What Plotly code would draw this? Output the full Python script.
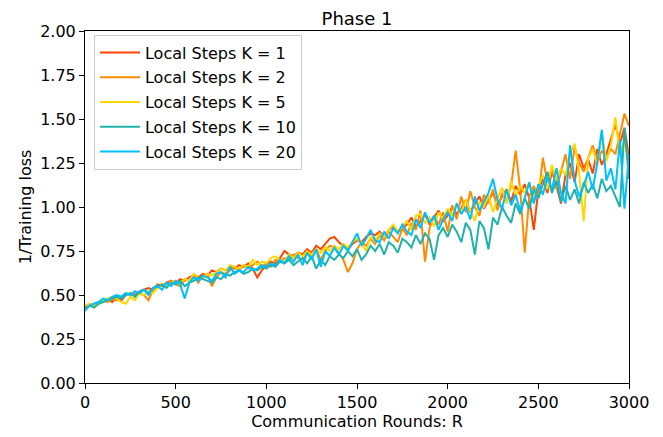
import plotly.graph_objects as go

rounds = list(range(0, 3001, 25))

k1 = [0.43,0.44,0.45,0.46,0.47,0.48,0.46,0.49,0.47,0.50,
      0.51,0.50,0.52,0.53,0.54,0.53,0.56,0.55,0.57,0.58,
      0.57,0.59,0.58,0.60,0.61,0.60,0.62,0.61,0.64,0.63,
      0.65,0.64,0.66,0.65,0.67,0.66,0.68,0.65,0.60,0.64,
      0.67,0.69,0.68,0.71,0.75,0.73,0.72,0.74,0.73,0.76,
      0.74,0.78,0.76,0.79,0.82,0.83,0.80,0.78,0.76,0.79,
      0.81,0.80,0.83,0.85,0.84,0.86,0.83,0.87,0.89,0.86,
      0.88,0.90,0.94,0.89,0.92,0.96,0.90,0.94,0.98,0.92,
      0.95,1.00,0.96,0.99,1.04,0.97,1.02,1.06,0.99,1.04,
      1.08,1.01,1.06,1.10,1.03,1.12,1.07,1.13,1.05,0.87,
      1.10,1.16,1.08,1.20,1.12,1.02,1.18,1.25,1.14,1.30,
      1.22,1.27,1.19,1.33,1.24,1.30,1.38,1.47,1.36,1.45,
      1.28]

k2 = [0.44,0.44,0.43,0.45,0.47,0.46,0.48,0.47,0.49,0.51,
      0.50,0.52,0.51,0.50,0.47,0.53,0.55,0.56,0.55,0.58,
      0.56,0.55,0.59,0.58,0.60,0.57,0.61,0.62,0.55,0.60,
      0.63,0.62,0.64,0.66,0.64,0.67,0.65,0.67,0.69,0.66,
      0.68,0.66,0.70,0.69,0.71,0.70,0.73,0.71,0.70,0.74,
      0.72,0.76,0.70,0.75,0.78,0.77,0.74,0.70,0.63,0.68,
      0.76,0.80,0.78,0.82,0.79,0.84,0.81,0.86,0.83,0.80,
      0.88,0.84,0.91,0.87,0.98,0.69,0.88,0.95,0.90,0.97,
      0.86,1.01,0.93,1.06,0.97,1.09,1.00,0.95,1.07,1.02,
      1.10,0.98,1.08,1.04,1.12,1.32,1.10,0.74,1.06,1.12,
      1.05,1.28,1.14,1.22,1.10,1.20,1.30,1.16,1.34,1.25,
      1.20,1.28,1.35,1.26,1.32,1.28,1.33,1.30,1.42,1.53,
      1.46]

k5 = [0.44,0.45,0.44,0.46,0.47,0.48,0.49,0.48,0.46,0.45,
      0.49,0.47,0.51,0.50,0.52,0.51,0.54,0.56,0.55,0.57,
      0.58,0.57,0.59,0.58,0.62,0.60,0.59,0.62,0.61,0.63,
      0.65,0.64,0.67,0.66,0.65,0.67,0.66,0.70,0.67,0.69,
      0.68,0.71,0.72,0.70,0.69,0.73,0.71,0.74,0.72,0.75,
      0.73,0.76,0.74,0.77,0.75,0.78,0.76,0.79,0.77,0.80,
      0.82,0.79,0.75,0.83,0.81,0.85,0.83,0.87,0.90,0.86,
      0.89,0.92,0.87,0.95,0.96,0.91,0.94,0.89,0.97,0.93,
      0.99,0.95,1.02,0.97,1.04,0.98,0.92,1.03,1.00,1.07,
      0.97,1.05,1.11,1.02,1.15,1.06,1.12,1.08,1.14,1.06,
      1.12,1.18,1.10,1.24,1.15,1.22,1.18,1.30,1.36,1.20,
      0.92,1.28,1.33,1.24,1.42,1.26,1.35,1.51,1.30,1.38,
      1.24]

k10 = [0.42,0.44,0.43,0.45,0.46,0.47,0.48,0.49,0.48,0.50,
       0.51,0.49,0.52,0.53,0.51,0.54,0.55,0.56,0.54,0.57,
       0.56,0.58,0.55,0.57,0.58,0.60,0.59,0.58,0.57,0.60,
       0.59,0.62,0.61,0.63,0.64,0.62,0.63,0.65,0.64,0.66,
       0.65,0.67,0.66,0.69,0.68,0.70,0.67,0.69,0.71,0.68,
       0.72,0.65,0.70,0.67,0.72,0.70,0.73,0.71,0.75,0.72,
       0.76,0.70,0.73,0.78,0.75,0.79,0.73,0.80,0.78,0.74,
       0.82,0.80,0.77,0.84,0.79,0.85,0.82,0.70,0.84,0.88,
       0.83,0.90,0.86,0.80,0.91,0.87,0.73,0.92,0.88,0.76,
       0.94,0.90,1.00,0.95,0.91,1.02,0.96,1.05,0.99,1.10,
       1.05,1.13,1.20,1.08,1.15,1.03,1.12,1.04,1.10,1.02,
       1.14,1.08,1.13,1.05,1.16,1.09,1.12,1.06,1.00,1.45,
       1.16]

k20 = [0.41,0.44,0.45,0.46,0.48,0.47,0.49,0.50,0.49,0.51,
       0.50,0.52,0.51,0.53,0.50,0.54,0.55,0.53,0.57,0.55,
       0.58,0.56,0.48,0.57,0.60,0.58,0.61,0.60,0.58,0.62,
       0.63,0.60,0.66,0.62,0.64,0.63,0.66,0.64,0.65,0.67,
       0.66,0.68,0.67,0.70,0.68,0.72,0.69,0.73,0.67,0.74,
       0.70,0.76,0.66,0.75,0.72,0.77,0.73,0.78,0.75,0.80,
       0.85,0.78,0.82,0.87,0.81,0.80,0.86,0.82,0.88,0.85,
       0.90,0.86,0.84,0.93,0.88,0.97,0.91,0.95,0.87,0.93,
       0.97,0.92,1.02,0.96,1.00,0.93,1.06,0.98,1.03,1.08,
       1.16,1.04,0.99,1.10,1.01,1.07,0.98,1.05,1.14,1.02,
       1.13,1.07,1.17,1.10,1.22,1.08,1.02,1.35,1.15,1.06,
       1.12,1.20,1.10,1.25,1.44,1.15,1.22,1.10,1.38,0.99,
       1.30]

names = ["Local Steps K = 1", "Local Steps K = 2", "Local Steps K = 5",
         "Local Steps K = 10", "Local Steps K = 20"]
series = [k1, k2, k5, k10, k20]
colors = ["#FF4500", "#FF8C00", "#FFD700", "#20B2AA", "#00BFFF"]

fig = go.Figure()
for i, (name, ys, c) in enumerate(zip(names, series, colors)):
    fig.add_trace(go.Scatter(x=rounds[:len(ys)], y=ys, mode="lines", name=name,
                             legendgroup=f"g{i}",
                             line=dict(color=c, width=2)))

font = "DejaVu Sans, sans-serif"
axis_common = dict(showline=True, linecolor="black", linewidth=1, mirror=True,
                   ticks="outside", ticklen=5, tickcolor="black", showgrid=False,
                   zeroline=False, tickfont=dict(size=16, color="black"),
                   automargin=False)

# page body has an 8px margin; the figure is sized so it fits the window
fig.update_layout(
    width=655, height=429,
    margin=dict(l=77, r=34, t=23, b=54),
    paper_bgcolor="white", plot_bgcolor="white",
    font=dict(family=font, color="black"),
    title=dict(text="Phase 1", x=0.5, xanchor="center", y=0.99, yref="container",
               yanchor="top", pad=dict(t=0, b=0),
               xref="paper", font=dict(size=18)),
    xaxis=dict(range=[0, 3000], tickvals=[0, 500, 1000, 1500, 2000, 2500, 3000],
               title=dict(text="Communication Rounds: R", font=dict(size=16), standoff=4),
               **axis_common),
    yaxis=dict(range=[0, 2], tickvals=[0, 0.25, 0.5, 0.75, 1.0, 1.25, 1.5, 1.75, 2.0],
               tickformat=".2f",
               title=dict(text="1/Training loss", font=dict(size=16), standoff=4),
               **axis_common),
    legend=dict(x=0.0165, y=0.99, xanchor="left", yanchor="top",
                bgcolor="rgba(255,255,255,0.8)", bordercolor="#cccccc", borderwidth=1,
                font=dict(size=16), tracegroupgap=1, itemwidth=40),
    showlegend=True,
)

fig.write_html("out.html")
